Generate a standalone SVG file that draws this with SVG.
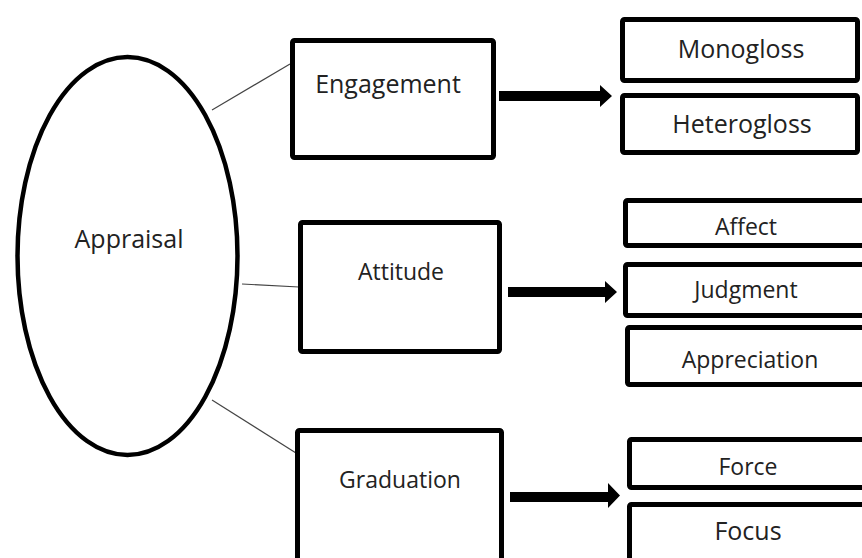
<svg xmlns="http://www.w3.org/2000/svg" width="862" height="558" viewBox="0 0 862 558">
<style>
.box{fill:#fff;stroke:#000;stroke-width:5;}
.ell{fill:#fff;stroke:#000;stroke-width:4.5;}
.link{stroke:#444;stroke-width:1.2;fill:none;}
.arrow{fill:#000;stroke:none;}
text{font-family:"Open Sans","Liberation Sans",sans-serif;fill:#222;text-anchor:middle;}
.l{font-size:25px;}
.s{font-size:23px;}
</style>
<rect width="862" height="558" fill="#fff"/>
<g id="connectors">
<line class="link" x1="212" y1="110" x2="290" y2="64"/>
<line class="link" x1="242" y1="284" x2="299" y2="287"/>
<line class="link" x1="212" y1="400" x2="296" y2="453"/>
<polygon class="arrow" points="499,91 600,91 600,85 612,96 600,107 600,101 499,101"/>
<polygon class="arrow" points="508,287 605,287 605,281 617,292 605,303 605,297 508,297"/>
<polygon class="arrow" points="510,492 608,492 608,483 620,495.5 608,508 608,502 510,502"/>
</g>
<g id="appraisal">
<ellipse class="ell" cx="127.5" cy="256" rx="110" ry="199"/>
<text class="l" x="129" y="248">Appraisal</text>
</g>
<g id="engagement">
<rect class="box" x="292.5" y="40.5" width="201" height="117" rx="2"/>
<text class="l" x="388" y="93">Engagement</text>
</g>
<g id="monogloss">
<rect class="box" x="622.5" y="19.5" width="235" height="61" rx="2"/>
<text class="l" x="741" y="58">Monogloss</text>
</g>
<g id="heterogloss">
<rect class="box" x="622.5" y="95.5" width="235" height="57" rx="2"/>
<text class="l" x="742" y="133">Heterogloss</text>
</g>
<g id="attitude">
<rect class="box" x="300.5" y="222.5" width="199" height="129" rx="2"/>
<text class="s" x="401" y="280">Attitude</text>
</g>
<g id="affect">
<rect class="box" x="625.5" y="200.5" width="250" height="45" rx="2"/>
<text class="s" x="746" y="235">Affect</text>
</g>
<g id="judgment">
<rect class="box" x="625.5" y="264.5" width="250" height="51" rx="2"/>
<text class="s" x="746" y="298">Judgment</text>
</g>
<g id="appreciation">
<rect class="box" x="627.5" y="327.5" width="250" height="57" rx="2"/>
<text class="s" x="750" y="368">Appreciation</text>
</g>
<g id="graduation">
<rect class="box" x="297.5" y="430.5" width="204" height="150" rx="2"/>
<text class="s" x="400" y="488">Graduation</text>
</g>
<g id="force">
<rect class="box" x="629.5" y="439.5" width="250" height="48" rx="2"/>
<text class="s" x="748" y="475">Force</text>
</g>
<g id="focus">
<rect class="box" x="629.5" y="504.5" width="250" height="80" rx="2"/>
<text class="l" x="748" y="540">Focus</text>
</g>
</svg>
